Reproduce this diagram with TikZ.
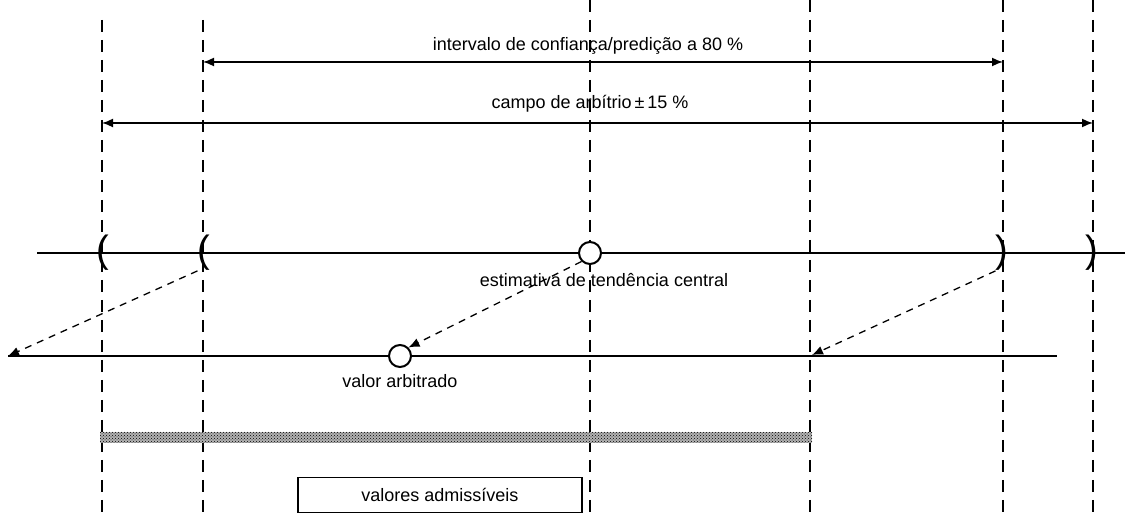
\documentclass[tikz,border=0pt]{standalone}
\usepackage{fontspec}
\setmainfont{Liberation Sans}
\usepackage{tikz}
\usetikzlibrary{arrows, arrows.meta, patterns}

\tikzset{grenz/.style={line width=2.2pt, dash pattern=on 12pt off 8pt},
         klammer/.style={inner sep=0pt, font=\fontsize{38}{38}\selectfont},
         spitze/.style={-{Latex[length=11pt, width=9pt]}},
         zeiger/.style={spitze, line width=1.3pt, dash pattern=on 7pt off 6pt}}

\begin{document}
\begin{tikzpicture}[x=1pt, y=-1pt, font=\fontsize{18}{22}\selectfont]
            \useasboundingbox (0,0) rectangle (1125,518);

            \foreach \x/\t in {102/20, 203/20, 590/0, 810/0, 1003/0, 1093/0} {
                \coordinate (t\x) at (\x,\t);
                \coordinate (b\x) at (\x,518);
                \draw[grenz] (t\x) -- (b\x);
            }

            % intervals at the top
            \coordinate (i1) at (203,62);
            \coordinate (i2) at (1003,62);
            \coordinate (c1) at (102,123);
            \coordinate (c2) at (1093,123);
            \draw[{Latex[length=11pt, width=9pt]}-{Latex[length=11pt, width=9pt]}, line width=1.6pt] (i1) -- (i2);
            \draw[{Latex[length=11pt, width=9pt]}-{Latex[length=11pt, width=9pt]}, line width=1.6pt] (c1) -- (c2);
            \node (lint) at (588,46) {intervalo de confiança/predição a 80 \%};
            \node (lcampo) at (590,104) {campo de arbítrio\,±\,15 \%};

            % main line
            \coordinate (m1) at (37,253);
            \coordinate (m2) at (1125,253);
            \draw[line width=2.8pt] (m1) -- (m2);
            \node[klammer] (p1) at (103,253) {(};
            \node[klammer] (p2) at (204,253) {(};
            \node[klammer] (p3) at (1002,253) {)};
            \node[klammer] (p4) at (1092,253) {)};
            \node[circle, draw=black, fill=white, line width=2pt, minimum size=22pt, inner sep=0pt] (est) at (590,253) {};
            \node (lest) at (604,280) {estimativa de tendência central};

            % lower line
            \coordinate (u1) at (8,356);
            \coordinate (u2) at (1057,356);
            \draw[line width=2.2pt] (u1) -- (u2);
            \node[circle, draw=black, fill=white, line width=2pt, minimum size=22pt, inner sep=0pt] (arb) at (400,356) {};
            \node (larb) at (400,381) {valor arbitrado};
            \coordinate (u3) at (812,355);

            \draw[zeiger] (p2.south west) -- (u1);
            \draw[zeiger] (est.south west) -- (arb.north east);
            \draw[zeiger] (p3.south west) -- (u3);

            % admissible values
            \fill[black!30] (100,432) rectangle (812,443);
            \fill[pattern=crosshatch dots, pattern color=black] (100,432) rectangle (812,443);
            \node[draw=black, line width=1.8pt, minimum width=284pt, minimum height=35pt, inner sep=0pt] (adm) at (440,495) {valores admissíveis};
        \end{tikzpicture}
\end{document}
